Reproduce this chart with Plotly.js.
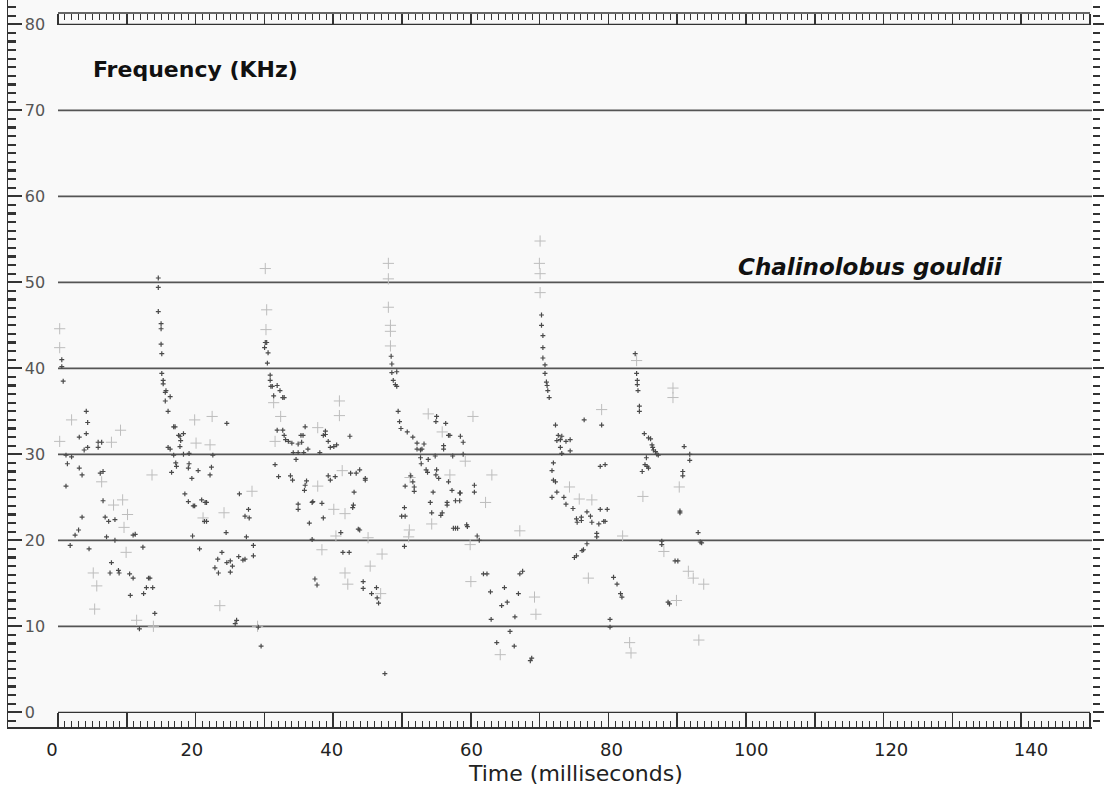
<!DOCTYPE html>
<html><head><meta charset="utf-8">
<script src="https://cdn.plot.ly/plotly-3.0.1.min.js"></script>
<style>html,body{margin:0;padding:0;background:#fff}#chart{width:1104px;height:787px}</style>
</head><body><div id="chart"></div>
<script>
// ---- Data: [time (ms), frequency (kHz)] ----
const pulse1Dots = [[1.4,41.0],[1.4,40.2],[1.6,38.5],[4.9,35.0],[5.1,33.7],[3.9,32.0],[4.9,32.4],[5.1,30.8],[4.6,30.5],[6.6,31.4],[7.1,31.4],[6.6,30.8],[2.0,29.9],[2.8,29.7],[2.2,28.9],[3.9,28.4],[4.3,27.6],[6.9,27.8],[7.3,28.0],[2.0,26.3],[7.3,24.6],[4.3,22.7],[7.6,22.7],[8.1,22.2],[9.0,22.4],[3.8,21.2],[3.3,20.6],[7.8,20.4],[9.0,20.0],[11.9,20.7],[11.6,20.6],[2.6,19.4],[5.3,19.0],[13.0,19.2],[8.5,17.4],[8.3,16.2],[9.5,16.5],[9.6,16.2],[11.1,16.1],[11.6,15.6],[13.8,15.6],[14.0,15.6],[13.5,14.5],[14.4,14.5],[13.1,13.8],[11.2,13.6],[14.7,11.5],[12.5,9.7]];
const pulse1Crosses = [[1.1,44.6],[1.1,42.4],[2.8,34.0],[1.1,31.5],[8.5,31.4],[9.8,32.8],[7.1,26.8],[8.8,24.1],[10.1,24.7],[10.8,23.0],[10.3,21.5],[10.6,18.6],[5.9,16.2],[6.4,14.7],[6.1,12.0],[14.3,27.6],[14.5,10.0],[12.1,10.7]];
const pulse2Dots = [[15.2,50.5],[15.2,49.4],[15.2,46.6],[15.6,45.2],[15.6,44.6],[15.6,42.8],[15.7,41.7],[15.7,39.4],[15.9,38.6],[15.9,38.2],[16.3,37.4],[16.2,37.2],[16.9,36.7],[16.2,36.2],[16.6,35.0],[17.4,33.2],[17.6,33.2],[18.1,32.2],[18.3,32.1],[18.8,32.4],[18.4,31.6],[16.6,30.8],[16.9,30.6],[18.3,30.9],[17.4,29.9],[18.8,30.0],[19.6,30.1],[17.7,29.0],[17.8,28.6],[19.6,28.9],[19.5,28.4],[17.1,27.9],[20.9,28.1],[22.8,28.5],[22.6,27.6],[20.0,27.2],[23.0,29.9],[19.0,25.4],[19.5,24.5],[20.2,24.0],[20.4,24.0],[21.4,24.7],[21.9,24.4],[22.1,24.4],[21.8,22.2],[22.1,22.2],[20.1,20.5],[21.1,19.0],[25.0,33.6],[24.9,20.9],[26.8,25.4],[28.1,23.6],[28.2,22.6],[27.6,22.8],[27.8,20.4],[24.3,18.6],[23.7,17.8],[25.0,17.4],[25.5,17.6],[23.3,16.8],[25.8,17.0],[23.8,16.2],[25.5,16.3],[26.7,18.1],[27.3,17.7],[27.6,17.8],[28.8,18.2],[28.8,19.4],[26.4,10.7],[26.2,10.3],[29.9,7.7],[29.5,9.9]];
const pulse2Crosses = [[20.4,34.0],[20.6,31.3],[22.9,34.4],[22.6,31.1],[24.0,12.4],[21.6,22.6],[24.6,23.2],[28.6,25.7],[29.4,10.0]];
const pulse3Dots = [[30.5,43.0],[30.7,43.0],[30.4,42.4],[30.9,41.8],[30.8,40.6],[31.2,39.2],[31.2,38.6],[31.3,37.9],[31.5,37.9],[32.2,38.0],[31.7,36.8],[32.6,37.4],[33.0,36.6],[33.2,36.6],[32.2,32.8],[33.0,32.8],[33.2,32.2],[33.4,31.7],[33.8,31.5],[34.3,31.3],[35.2,31.2],[35.7,31.4],[35.6,32.2],[35.9,32.2],[36.2,33.2],[36.6,30.6],[39.1,32.7],[39.1,32.3],[38.8,32.2],[39.5,31.5],[39.8,30.8],[40.3,30.9],[40.7,31.1],[42.6,32.1],[34.5,30.2],[35.2,30.2],[36.0,30.2],[38.3,30.2],[34.9,29.4],[34.1,27.5],[34.4,27.0],[31.9,28.8],[32.4,27.4],[36.2,26.4],[36.1,25.8],[36.4,26.9],[39.5,27.5],[39.8,27.0],[40.5,27.4],[42.7,27.8],[43.5,27.8],[44.0,28.2],[44.8,27.2],[44.8,27.0],[43.2,25.6],[43.1,24.1],[35.2,24.2],[35.2,23.6],[37.3,24.5],[37.2,24.4],[38.6,24.3],[43.0,23.8],[38.8,22.6],[36.8,22.0],[41.3,20.9],[43.8,21.3],[44.0,21.2],[37.2,20.1],[41.6,18.6],[42.5,18.6],[44.5,15.2],[44.5,14.4],[46.4,14.5],[45.7,13.8],[46.5,13.3],[46.7,12.7],[47.6,4.5],[37.6,15.5],[37.9,14.8]];
const pulse3Crosses = [[30.5,51.6],[30.7,46.8],[30.6,44.5],[31.7,36.0],[32.7,34.4],[31.9,31.5],[38.0,33.1],[41.1,36.2],[41.1,34.5],[38.0,26.3],[41.5,28.1],[40.3,23.6],[41.9,23.1],[40.6,20.5],[45.2,20.3],[38.6,18.9],[45.5,17.0],[41.9,16.2],[42.3,14.9],[47.2,18.4],[47.0,13.8]];
const pulse4Dots = [[48.5,41.4],[48.6,40.5],[48.6,39.5],[49.3,39.6],[48.8,38.6],[49.1,38.1],[49.3,37.9],[49.5,35.0],[49.7,33.8],[49.9,33.0],[50.8,32.6],[51.6,32.0],[52.2,31.3],[52.2,30.6],[52.7,30.5],[52.9,30.6],[53.2,31.2],[55.0,34.4],[54.9,33.8],[56.3,33.6],[56.7,32.2],[56.9,32.2],[56.0,31.0],[56.0,30.6],[58.4,32.1],[58.8,31.4],[52.7,29.6],[53.8,29.4],[54.8,29.8],[57.3,29.8],[58.8,30.0],[52.8,28.9],[53.5,28.2],[53.7,27.9],[55.0,28.2],[54.9,27.6],[55.3,27.2],[56.7,26.8],[57.2,25.8],[58.4,25.5],[60.4,26.4],[60.4,25.6],[51.3,27.5],[51.6,26.8],[51.8,26.2],[51.8,25.7],[50.5,26.3],[54.5,25.6],[54.1,24.4],[56.5,24.4],[56.5,24.1],[57.7,24.6],[58.3,24.6],[58.3,25.5],[54.3,23.2],[55.6,22.9],[55.8,23.2],[57.4,21.4],[57.7,21.4],[58.0,21.4],[59.3,21.8],[59.4,21.6],[60.8,20.5],[61.1,20.0],[50.0,22.8],[50.4,23.8],[50.5,22.8],[50.4,19.3],[61.7,16.1],[62.2,16.1],[62.7,14.0],[64.7,14.5],[65.1,12.8],[64.3,12.4],[66.7,13.8],[67.3,16.4],[66.9,16.1],[66.2,11.1],[62.8,10.8],[65.5,9.4],[63.6,8.1],[66.1,7.7],[68.4,6.0],[68.6,6.3]];
const pulse4Crosses = [[48.1,52.2],[48.1,50.4],[48.1,47.1],[48.4,45.0],[48.4,44.3],[48.4,42.6],[53.8,34.7],[55.8,32.6],[60.2,34.4],[56.9,27.6],[59.1,29.2],[62.0,24.4],[62.9,27.6],[54.3,21.9],[51.1,21.2],[51.0,20.4],[59.8,19.5],[51.2,27.3],[59.9,15.2],[66.9,21.1],[69.0,13.4],[69.2,11.4],[64.1,6.7]];
const pulse5Dots = [[70.0,46.2],[70.0,45.0],[70.2,43.8],[70.2,42.4],[70.2,41.2],[70.5,40.4],[70.5,39.4],[70.7,38.4],[70.8,38.0],[70.9,37.4],[71.1,36.6],[72.0,33.4],[72.4,32.2],[72.9,32.1],[72.7,31.7],[73.5,31.5],[74.1,31.7],[72.2,31.6],[72.7,30.8],[74.1,30.4],[72.9,30.1],[71.7,29.0],[71.5,28.1],[71.7,27.0],[72.0,26.8],[72.2,25.6],[71.5,25.0],[73.2,25.0],[73.5,24.2],[74.5,23.7],[75.0,22.5],[75.7,22.7],[75.7,22.3],[75.1,22.1],[76.5,23.3],[77.0,22.8],[77.2,22.1],[78.4,23.6],[79.4,23.6],[78.9,22.2],[79.1,22.2],[78.2,21.9],[77.9,20.8],[77.9,20.4],[76.5,19.6],[76.0,18.9],[75.8,18.8],[75.0,18.2],[74.7,18.0],[80.3,15.7],[80.8,14.9],[81.3,13.8],[81.5,13.4],[79.8,10.8],[79.8,9.9],[78.4,28.6],[79.1,28.8],[78.6,33.4],[76.1,34.0]];
const pulse5Crosses = [[69.8,54.8],[69.7,52.2],[69.8,51.0],[69.8,48.8],[78.6,35.2],[74.0,26.2],[75.4,24.8],[77.2,24.7],[81.6,20.5],[76.7,15.6],[82.6,8.1],[82.8,6.9]];
const pulse6Dots = [[83.4,41.7],[83.6,39.4],[83.7,38.6],[83.7,38.1],[83.8,37.4],[84.0,35.6],[84.0,35.0],[84.7,32.4],[85.3,31.9],[85.6,31.8],[85.8,31.1],[85.9,30.8],[86.0,30.5],[86.3,30.3],[86.5,30.0],[86.7,29.9],[85.0,29.6],[84.8,28.8],[85.1,28.6],[85.3,28.4],[84.4,28.0],[90.4,30.9],[91.2,30.0],[91.2,29.3],[90.2,28.0],[90.2,27.5],[89.8,23.4],[89.8,23.2],[92.4,20.9],[92.7,19.8],[92.9,19.7],[87.2,19.9],[87.2,19.5],[89.1,17.6],[89.5,17.6],[88.1,12.8],[88.3,12.6]];
const pulse6Crosses = [[83.6,40.9],[88.8,37.7],[88.8,36.6],[89.7,26.2],[84.5,25.1],[87.5,18.7],[91.0,16.4],[91.7,15.6],[93.2,14.9],[89.3,13.0],[92.5,8.4]];

const timeTicks = [0,20,40,60,80,100,120,140];
const gridFreqs = [10,20,30,40,50,60,70];
const speciesLabel = 'Chalinolobus gouldii';
const freqLabel = 'Frequency (KHz)';
const timeLabel = 'Time (milliseconds)';

// ---- Layout geometry (pixels) ----
const W=1104, H=787, L=8, R=1092, T=0, B=727;
const t0px=52, pxPerMs=(1031-52)/140;          // time labels
const xRange=[(L-t0px)/pxPerMs,(R-t0px)/pxPerMs];
const r0px=58, pxPerR=(1090-58)/150;            // ruler scale
const rRange=[(L-r0px)/pxPerR,(R-r0px)/pxPerR];
const f0px=712.3, pxPerK=8.6;                   // frequency
const yRange=[(f0px-B)/pxPerK,(f0px-T)/pxPerK];
const px2pX = px => (px-L)/(R-L);
const px2pY = py => (B-py)/(B-T);

const rulerMajor=[], rulerMinor=[];
for (let v=0; v<=150; v++) { (v%10===0 ? rulerMajor : rulerMinor).push(v); }
const topRulerPos = px2pY(13);

const allDots = [].concat(pulse1Dots,pulse2Dots,pulse3Dots,pulse4Dots,pulse5Dots,pulse6Dots);
const allCrosses = [].concat(pulse1Crosses,pulse2Crosses,pulse3Crosses,pulse4Crosses,pulse5Crosses,pulse6Crosses);
const xs = a => a.map(p=>p[0]), ys = a => a.map(p=>p[1]);

const traces = [
  {type:'scatter', mode:'markers', x:xs(allCrosses), y:ys(allCrosses), hoverinfo:'skip',
   marker:{symbol:'cross-thin', size:8, color:'#bdbdbd', line:{width:1, color:'#bdbdbd'}}},
  {type:'scatter', mode:'markers', x:xs(allDots), y:ys(allDots), hoverinfo:'skip',
   marker:{symbol:'cross-thin', size:3.5, color:'#4a4a4a', line:{width:1.2, color:'#4a4a4a'}}},
  {type:'scatter', x:[], y:[], xaxis:'x2', yaxis:'y', hoverinfo:'skip'},
  {type:'scatter', x:[], y:[], xaxis:'x3', yaxis:'y', hoverinfo:'skip'},
  {type:'scatter', x:[], y:[], xaxis:'x', yaxis:'y2', hoverinfo:'skip'}
];

const shapes = [];
gridFreqs.forEach(f => shapes.push({type:'line', xref:'x2', yref:'y', x0:0, x1:rRange[1], y0:f, y1:f, line:{color:'#555', width:1.8}, layer:'below'}));
shapes.push({type:'line', xref:'x2', yref:'y', x0:0, x1:150, y0:0, y1:0, line:{color:'#333', width:1.3}});
shapes.push({type:'line', xref:'x2', yref:'y', x0:0, x1:150, y0:80, y1:80, line:{color:'#333', width:1.3}});
shapes.push({type:'line', xref:'x2', yref:'paper', x0:0, x1:150, y0:topRulerPos, y1:topRulerPos, line:{color:'#333', width:1.3}});

const layout = {
  width:W, height:H, margin:{l:L, r:W-R, t:T, b:H-B, pad:0},
  paper_bgcolor:'#ffffff', plot_bgcolor:'#f9f9f9', showlegend:false,
  xaxis:{range:xRange, tickmode:'array', tickvals:timeTicks, ticks:'', showgrid:false, zeroline:false,
    showline:true, linecolor:'#333', linewidth:1.5, ticklabelstandoff:6,
    tickfont:{family:'DejaVu Sans', size:18, color:'#222'}},
  xaxis2:{overlaying:'x', anchor:'y', side:'bottom', range:rRange, showgrid:false, zeroline:false,
    showline:false, showticklabels:false, tickmode:'array', tickvals:rulerMajor, ticks:'inside',
    ticklen:14, tickwidth:1.5, tickcolor:'#333',
    minor:{tickmode:'array', tickvals:rulerMinor, ticks:'inside', ticklen:6, tickwidth:1, tickcolor:'#333'}},
  xaxis3:{overlaying:'x', anchor:'free', position:topRulerPos, side:'top', range:rRange, showgrid:false,
    zeroline:false, showline:false, showticklabels:false, tickmode:'array', tickvals:rulerMajor, ticks:'inside',
    ticklen:11, tickwidth:1.5, tickcolor:'#333',
    minor:{tickmode:'array', tickvals:rulerMinor, ticks:'inside', ticklen:6, tickwidth:1, tickcolor:'#333'}},
  yaxis:{range:yRange, tickmode:'linear', tick0:0, dtick:10, ticks:'inside', ticklen:14, tickwidth:2.2,
    tickcolor:'#333', showline:true, linecolor:'#333', linewidth:1.5, showgrid:false, zeroline:false,
    ticklabelposition:'inside', ticklabelstandoff:3, tickfont:{family:'DejaVu Sans', size:16, color:'#555'},
    minor:{tick0:0, dtick:1, ticks:'inside', ticklen:8, tickwidth:2.2, tickcolor:'#333'}},
  yaxis2:{overlaying:'y', anchor:'x', side:'right', range:yRange, tickmode:'linear', tick0:0, dtick:10,
    ticks:'outside', ticklen:11, tickwidth:2, tickcolor:'#333', showline:false, showgrid:false,
    zeroline:false, showticklabels:false,
    minor:{tick0:0, dtick:1, ticks:'outside', ticklen:7, tickwidth:2, tickcolor:'#333'}},
  shapes: shapes,
  annotations:[
    {text:freqLabel, xref:'paper', yref:'paper', x:px2pX(91), y:px2pY(70), xanchor:'left', yanchor:'middle',
     showarrow:false, font:{family:'DejaVu Sans', size:22, color:'#111', weight:'bold'}},
    {text:'<i>'+speciesLabel+'</i>', xref:'paper', yref:'paper', x:px2pX(736), y:px2pY(267), xanchor:'left', yanchor:'middle',
     showarrow:false, font:{family:'DejaVu Sans', size:23, color:'#111', weight:'bold'}},
    {text:timeLabel, xref:'paper', yref:'paper', x:px2pX(575), y:px2pY(773), xanchor:'center', yanchor:'middle',
     showarrow:false, font:{family:'DejaVu Sans', size:22, color:'#222'}}
  ]
};
Plotly.newPlot('chart', traces, layout, {displayModeBar:false, staticPlot:true});
</script></body></html>
